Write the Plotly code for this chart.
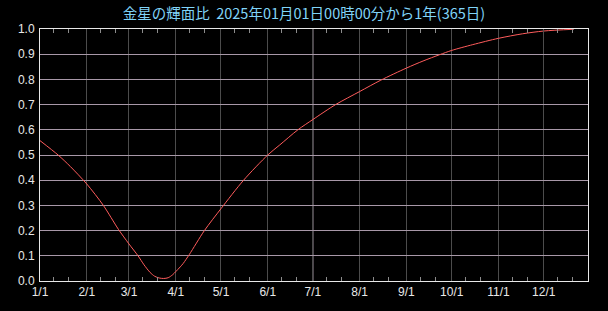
import plotly.graph_objects as go

# ---- data ----
dates = ["2025-01-01", "2025-01-13", "2025-01-21", "2025-02-01", "2025-02-12",
         "2025-02-22", "2025-03-01", "2025-03-07", "2025-03-11", "2025-03-15", "2025-03-18",
         "2025-03-21", "2025-03-24", "2025-03-27", "2025-03-30", "2025-04-01", "2025-04-04",
         "2025-04-06", "2025-04-10", "2025-04-20", "2025-05-01", "2025-05-16", "2025-06-01",
         "2025-06-09", "2025-06-21", "2025-07-01", "2025-07-16", "2025-08-01", "2025-08-15",
         "2025-09-01", "2025-09-12", "2025-09-23", "2025-10-01", "2025-10-15", "2025-11-01",
         "2025-11-17", "2025-12-01", "2025-12-21"]
fraction = [0.557, 0.500, 0.455, 0.385, 0.300,
            0.205, 0.147, 0.100, 0.064, 0.034, 0.019,
            0.012, 0.010, 0.013, 0.025, 0.037, 0.056,
            0.070, 0.105, 0.200, 0.287, 0.400, 0.500,
            0.540, 0.600, 0.641, 0.700, 0.752, 0.797,
            0.845, 0.873, 0.898, 0.915, 0.938, 0.963,
            0.981, 0.992, 0.999]

month_ticks = ["2025-%02d-01" % m for m in range(1, 13)]
month_labels = ["%d/1" % m for m in range(1, 13)]
minor_ticks = ["2025-%02d-%02d" % (m, d) for m in range(1, 13) for d in (10, 20)]
y_ticks = [i / 10 for i in range(11)]
y_labels = ["%.1f" % v for v in y_ticks]
x_range = ["2025-01-01", "2025-12-30 09:00"]
highlight_month = "2025-07-01"

title_text = "金星の輝面比  2025年01月01日00時00分から1年(365日)"

fig = go.Figure()
fig.add_trace(go.Scatter(x=dates, y=fraction, mode="lines",
                         line=dict(color="#ff5c5c", width=1, shape="spline", smoothing=0.8),
                         hoverinfo="skip", showlegend=False))

fig.add_shape(type="line", xref="x", yref="paper", x0=highlight_month, x1=highlight_month,
              y0=0, y1=1, line=dict(color="#a898a8", width=1), layer="below")

tick_font = dict(family="Liberation Sans, Arial, sans-serif", size=12, color="#e8e8e8")

fig.update_layout(
    width=608, height=311,
    margin=dict(l=40, r=20, t=29, b=24),
    paper_bgcolor="#000000", plot_bgcolor="#000000",
    title=dict(text=title_text, x=0.5, xref="container", xanchor="center",
               y=1 - 14 / 311, yref="container", yanchor="middle",
               font=dict(family="Noto Sans CJK JP", size=14.5, color="#80d4f8")),
    xaxis=dict(type="date", range=x_range, tickmode="array", tickvals=month_ticks,
               ticktext=month_labels, showgrid=True, gridcolor="#4c4c4c", gridwidth=1,
               zeroline=False, showline=True, linecolor="#e8e8e8", linewidth=1,
               mirror="ticks", ticks="inside", ticklen=4, tickcolor="#4c4c4c",
               tickfont=tick_font,
               minor=dict(tickmode="array", tickvals=minor_ticks, ticks="inside",
                          ticklen=4, tickcolor="#8c8c8c", tickwidth=1, showgrid=False)),
    yaxis=dict(range=[0, 1], tickmode="array", tickvals=y_ticks, ticktext=y_labels,
               showgrid=True, gridcolor="#a898a8", gridwidth=1, zeroline=False,
               showline=True, linecolor="#e8e8e8", linewidth=1, mirror=True,
               ticks="", tickfont=tick_font, ticklabelstandoff=2),
)

fig.write_html("out.html")
